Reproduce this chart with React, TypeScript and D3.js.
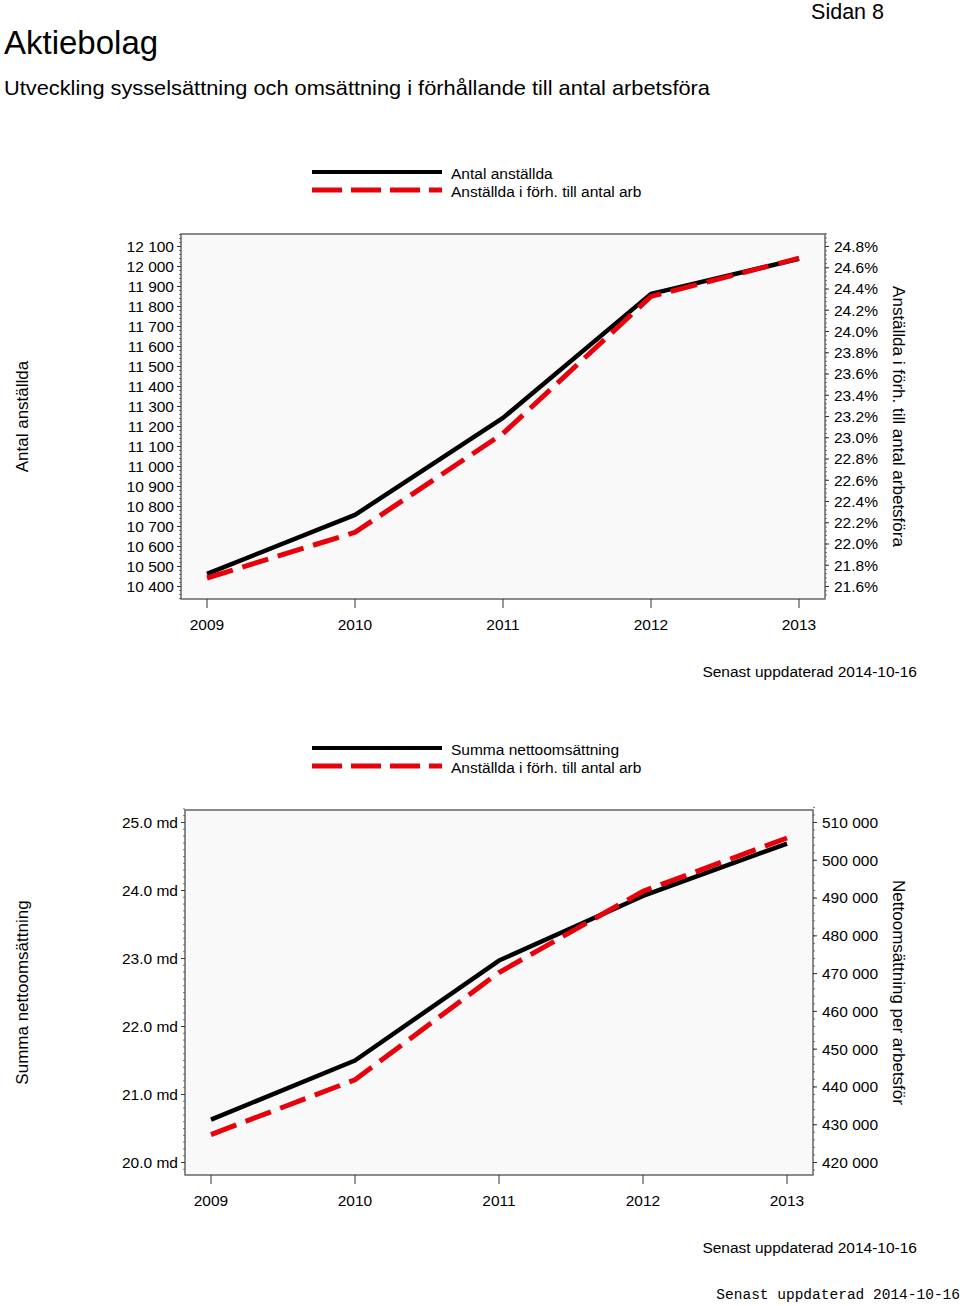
import * as d3 from 'd3';

// Years on the x axis (both panels)
const years = [2009, 2010, 2011, 2012, 2013];

// Panel 1: employees and employees relative to working-age population
const antalAnstallda = [10463, 10758, 11243, 11863, 12038];
const anstalldaAndel = [21.68, 22.11, 23.04, 24.33, 24.69];
const antalTicks = [10400, 10500, 10600, 10700, 10800, 10900, 11000, 11100, 11200, 11300, 11400, 11500, 11600, 11700, 11800, 11900, 12000, 12100];
const andelTicks = [21.6, 21.8, 22.0, 22.2, 22.4, 22.6, 22.8, 23.0, 23.2, 23.4, 23.6, 23.8, 24.0, 24.2, 24.4, 24.6, 24.8];

// Panel 2: net turnover (md) and turnover per working-age person
const summaNetto = [20.63, 21.5, 22.97, 23.92, 24.69];
const nettoPerArbetsfor = [427400, 441900, 470300, 491800, 505900];
const nettoTicks = [20, 21, 22, 23, 24, 25];
const perArbTicks = [420000, 430000, 440000, 450000, 460000, 470000, 480000, 490000, 500000, 510000];

const FONT = '"Liberation Sans", Arial, Helvetica, sans-serif';
const RED = '#e8000b';

const spaced = (v: number) => d3.format(',')(v).replace(/,/g, ' ');

interface Frame {
  x0: number;
  x1: number;
  y0: number;
  y1: number;
}

interface PanelProps {
  frame: Frame;
  leftTicks: number[];
  rightTicks: number[];
  leftMinorStep: number;
  rightMinorStep: number;
  leftFmt: (v: number) => string;
  rightFmt: (v: number) => string;
  blackValues: number[];
  redValues: number[];
  legend: [string, string];
  leftTitle: string;
  rightTitle: string;
  leftLabelGap: number;
  rightLabelGap: number;
}

function Panel(p: PanelProps) {
  const { frame } = p;
  const pad = 12.5;
  const x = d3.scaleLinear().domain([years[0], years[years.length - 1]]).range([frame.x0 + 26, frame.x1 - 26]);
  const yL = d3
    .scaleLinear()
    .domain([p.leftTicks[0], p.leftTicks[p.leftTicks.length - 1]])
    .range([frame.y1 - pad, frame.y0 + pad]);
  const yR = d3
    .scaleLinear()
    .domain([p.rightTicks[0], p.rightTicks[p.rightTicks.length - 1]])
    .range([frame.y1 - pad, frame.y0 + pad]);

  const leftMinor = d3.range(yL.invert(frame.y1), yL.invert(frame.y0), p.leftMinorStep)
    .map((v) => Math.ceil(v / p.leftMinorStep) * p.leftMinorStep);
  const rightMinor = d3.range(yR.invert(frame.y1), yR.invert(frame.y0), p.rightMinorStep)
    .map((v) => Math.ceil(v / p.rightMinorStep) * p.rightMinorStep);

  const blackLine = d3.line<number>().x((_, i) => x(years[i])).y((d) => yL(d));
  const redLine = d3.line<number>().x((_, i) => x(years[i])).y((d) => yR(d));

  const legendY = frame.y0 - 62;
  const midY = (frame.y0 + frame.y1) / 2;

  return (
    <g fontFamily={FONT}>
      {/* legend */}
      <line x1={312} x2={442} y1={legendY} y2={legendY} stroke='#000' strokeWidth={4} />
      <line x1={312} x2={442} y1={legendY + 18} y2={legendY + 18} stroke={RED} strokeWidth={5} strokeDasharray='30,9' />
      <text x={451} y={legendY + 7} fontSize={15.5}>{p.legend[0]}</text>
      <text x={451} y={legendY + 25} fontSize={15.5}>{p.legend[1]}</text>

      {/* plot area */}
      <rect x={frame.x0} y={frame.y0} width={frame.x1 - frame.x0} height={frame.y1 - frame.y0} fill='#f9f9f9' stroke='#666' strokeWidth={1.5} />

      {/* left axis */}
      {leftMinor.map((v, i) => (
        <line key={`lm${i}`} x1={frame.x0 - 2} x2={frame.x0} y1={yL(v)} y2={yL(v)} stroke='#555' strokeWidth={0.8} />
      ))}
      {p.leftTicks.map((v) => (
        <g key={`l${v}`}>
          <line x1={frame.x0 - 4} x2={frame.x0} y1={yL(v)} y2={yL(v)} stroke='#333' />
          <text x={frame.x0 - p.leftLabelGap} y={yL(v)} dy='0.35em' textAnchor='end' fontSize={15.5}>
            {p.leftFmt(v)}
          </text>
        </g>
      ))}

      {/* right axis */}
      {rightMinor.map((v, i) => (
        <line key={`rm${i}`} x1={frame.x1} x2={frame.x1 + 2} y1={yR(v)} y2={yR(v)} stroke='#555' strokeWidth={0.8} />
      ))}
      {p.rightTicks.map((v) => (
        <g key={`r${v}`}>
          <line x1={frame.x1} x2={frame.x1 + 4} y1={yR(v)} y2={yR(v)} stroke='#333' />
          <text x={frame.x1 + p.rightLabelGap} y={yR(v)} dy='0.35em' fontSize={15.5}>
            {p.rightFmt(v)}
          </text>
        </g>
      ))}

      {/* x axis */}
      {years.map((yr) => (
        <g key={yr}>
          <line x1={x(yr)} x2={x(yr)} y1={frame.y1} y2={frame.y1 + 9} stroke='#333' />
          <text x={x(yr)} y={frame.y1 + 31} textAnchor='middle' fontSize={15.5}>{yr}</text>
        </g>
      ))}

      {/* axis titles */}
      <text transform={`translate(28,${midY}) rotate(-90)`} textAnchor='middle' fontSize={17}>{p.leftTitle}</text>
      <text transform={`translate(893,${midY}) rotate(90)`} textAnchor='middle' fontSize={17}>{p.rightTitle}</text>

      {/* series */}
      <path d={blackLine(p.blackValues) ?? ''} fill='none' stroke='#000' strokeWidth={4.5} strokeLinejoin='round' />
      <path d={redLine(p.redValues) ?? ''} fill='none' stroke={RED} strokeWidth={5} strokeDasharray='27,10' />

      <text x={917} y={frame.y1 + 78} textAnchor='end' fontSize={15.5}>Senast uppdaterad 2014-10-16</text>
    </g>
  );
}

export default function App() {
  return (
    <svg width={960} height={1306} style={{ position: 'absolute', left: 0, top: 0, background: '#fff' }}>
      <text x={884} y={19} textAnchor='end' fontFamily={FONT} fontSize={21.5}>Sidan 8</text>
      <text x={4} y={54} fontFamily={FONT} fontSize={33}>Aktiebolag</text>
      <text x={4} y={95} fontFamily={FONT} fontSize={21} textLength={706} lengthAdjust='spacingAndGlyphs'>
        Utveckling sysselsättning och omsättning i förhållande till antal arbetsföra
      </text>

      <Panel
        frame={{ x0: 181, x1: 825, y0: 234, y1: 599 }}
        leftTicks={antalTicks}
        rightTicks={andelTicks}
        leftMinorStep={20}
        rightMinorStep={0.04}
        leftFmt={spaced}
        rightFmt={(v) => `${v.toFixed(1)}%`}
        blackValues={antalAnstallda}
        redValues={anstalldaAndel}
        legend={['Antal anställda', 'Anställda i förh. till antal arb']}
        leftTitle='Antal anställda'
        rightTitle='Anställda i förh. till antal arbetsföra'
        leftLabelGap={7}
        rightLabelGap={9}
      />

      <Panel
        frame={{ x0: 185, x1: 813, y0: 810, y1: 1175 }}
        leftTicks={nettoTicks}
        rightTicks={perArbTicks}
        leftMinorStep={0.1}
        rightMinorStep={2000}
        leftFmt={(v) => `${v.toFixed(1)} md`}
        rightFmt={spaced}
        blackValues={summaNetto}
        redValues={nettoPerArbetsfor}
        legend={['Summa nettoomsättning', 'Anställda i förh. till antal arb']}
        leftTitle='Summa nettoomsättning'
        rightTitle='Nettoomsättning per arbetsför'
        leftLabelGap={7}
        rightLabelGap={9}
      />

      <text x={960} y={1299} textAnchor='end' fontFamily='"Liberation Mono", "Courier New", monospace' fontSize={14.5}>
        Senast uppdaterad 2014-10-16
      </text>
    </svg>
  );
}
